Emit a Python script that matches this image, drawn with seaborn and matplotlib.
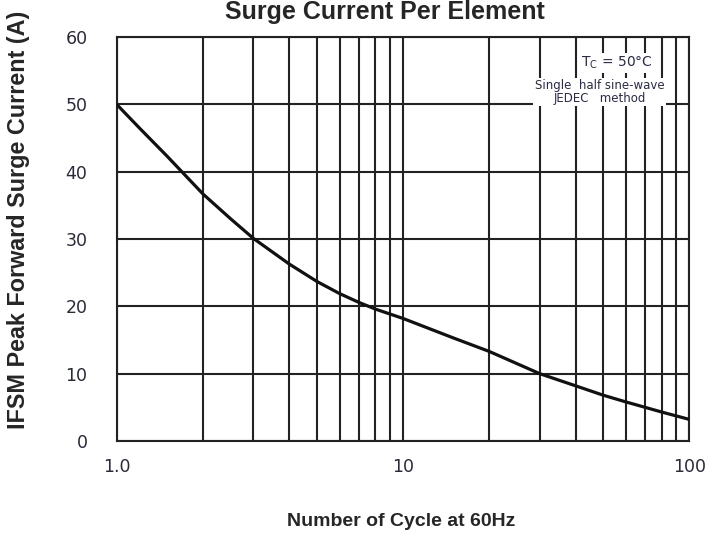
import numpy as np
import pandas as pd
import matplotlib
matplotlib.use("Agg")
import matplotlib.pyplot as plt
import seaborn as sns

# Values
cycles = [1, 1.2, 1.5, 2, 2.5, 3, 4, 5, 6, 7, 8, 10, 15, 20, 30, 40, 50, 60, 70, 80, 100]
current = [50, 46.5, 42.3, 36.7, 33.0, 30.1, 26.3, 23.7, 21.9, 20.6, 19.6, 18.2,
           15.3, 13.3, 10.0, 8.2, 6.8, 5.8, 5.0, 4.3, 3.2]

x_ticks = [1, 10, 100]
x_tick_labels = ["1.0", "10", "100"]
y_ticks = [0, 10, 20, 30, 40, 50, 60]

df = pd.DataFrame({"Cycles": cycles, "Current": current})

sns.set_style("white")
plt.rcParams['font.family'] = ['DejaVu Sans']

fig = plt.figure(figsize=(7.25, 5.54), dpi=100)
ax = fig.add_axes([0.161, 0.204, 0.790, 0.729])

# grid lines (log minor + major)
grid_x = [i * d for d in (1, 10) for i in range(1, 10)] + [100]
for gx in grid_x:
    ax.axvline(gx, color="#222222", lw=1.5, zorder=1)
for gy in y_ticks:
    ax.axhline(gy, color="#222222", lw=1.5, zorder=1)

sns.lineplot(data=df, x="Cycles", y="Current", color="#111111", lw=2.3, ax=ax, zorder=3)

ax.set_xscale("log")
ax.set_xlim(1, 100)
ax.set_ylim(0, 60)
ax.set_xticks(x_ticks)
ax.set_xticklabels(x_tick_labels)
ax.set_yticks(y_ticks)
ax.minorticks_off()
ax.tick_params(axis="both", length=0, labelsize=12.5, colors="#2a2a3a")
ax.tick_params(axis="y", pad=21)
ax.tick_params(axis="x", pad=12)

for s in ax.spines.values():
    s.set_color("#222222")
    s.set_linewidth(1.5)

ax.set_xlabel("")
ax.set_ylabel("")

fig.text(0.553, 0.058, "Number of Cycle at 60Hz", ha="center", va="center",
         fontsize=14, fontweight="bold", family="Liberation Sans")
fig.text(0.026, 0.603, "IFSM Peak Forward Surge Current (A)", ha="center", va="center",
         rotation=90, fontsize=16.8, fontweight="bold", family="Liberation Sans")
fig.text(0.531, 1.0, "Surge Current Per Element", ha="center", va="top",
         fontsize=18, fontweight="bold", family="Liberation Sans")

# annotation box
ax.text(0.873, 0.936, "T$_\\mathregular{C}$ = 50°C", transform=ax.transAxes,
        ha="center", va="center", fontsize=10, color="#2a2a4a", zorder=4,
        bbox=dict(facecolor="white", edgecolor="none", pad=1))
ax.text(0.843, 0.864, "Single  half sine-wave\nJEDEC   method", transform=ax.transAxes,
        ha="center", va="center", fontsize=8.5, color="#2a2a4a", linespacing=0.95, zorder=4,
        bbox=dict(facecolor="white", edgecolor="none", pad=1))

fig.savefig("out.png", dpi=100)
